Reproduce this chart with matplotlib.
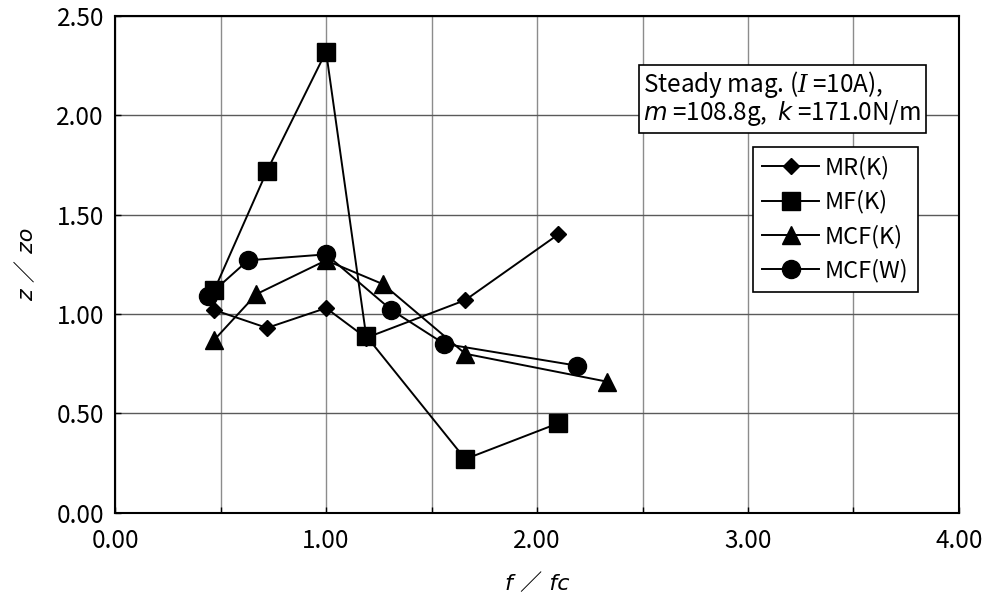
"""
z/zo response vs. frequency ratio for four damper types
"""
import numpy as np
import matplotlib
matplotlib.use("Agg")
import matplotlib.pyplot as plt

plt.rcParams['font.family'] = ['Noto Sans CJK JP', 'DejaVu Sans']
plt.rcParams['mathtext.fontset'] = 'custom'
plt.rcParams['mathtext.rm'] = 'Noto Sans CJK JP'
plt.rcParams['mathtext.it'] = 'DejaVu Sans:italic'
plt.rcParams['mathtext.cal'] = 'DejaVu Serif:italic'

# data
mr_x = [0.47, 0.72, 1.00, 1.19, 1.66, 2.10]
mr_y = [1.02, 0.93, 1.03, 0.88, 1.07, 1.40]

mf_x = [0.47, 0.72, 1.00, 1.19, 1.66, 2.10]
mf_y = [1.12, 1.72, 2.32, 0.89, 0.27, 0.45]

mcfk_x = [0.47, 0.67, 1.00, 1.27, 1.66, 2.33]
mcfk_y = [0.87, 1.10, 1.27, 1.15, 0.80, 0.66]

mcfw_x = [0.44, 0.63, 1.00, 1.31, 1.56, 2.19]
mcfw_y = [1.09, 1.27, 1.30, 1.02, 0.85, 0.74]

series_labels = ['MR(K)', 'MF(K)', 'MCF(K)', 'MCF(W)']
x_ticks = np.arange(0, 4.01, 0.5)
y_ticks = np.arange(0, 2.51, 0.5)

"""
Plot
"""
fig = plt.figure(figsize=(10.01, 6.09), dpi=100)
ax = fig.add_axes([0.115, 0.158, 0.843, 0.816])

ax.plot(mr_x, mr_y, color='black', lw=1.4, marker='D', ms=8, label=series_labels[0])
ax.plot(mf_x, mf_y, color='black', lw=1.4, marker='s', ms=13, label=series_labels[1])
ax.plot(mcfk_x, mcfk_y, color='black', lw=1.4, marker='^', ms=13.5, label=series_labels[2])
ax.plot(mcfw_x, mcfw_y, color='black', lw=1.4, marker='o', ms=13, label=series_labels[3])

ax.set_xlim(0, 4)
ax.set_ylim(0, 2.5)
ax.set_xticks(x_ticks)
ax.set_xticklabels(['%.2f' % t if t == int(t) else '' for t in x_ticks])
ax.set_yticks(y_ticks)
ax.set_yticklabels(['%.2f' % t for t in y_ticks])

# grid: vertical lines lighter than horizontal ones
ax.xaxis.grid(True, color='#8c8c8c', lw=1.0)
ax.yaxis.grid(True, color='#5a5a5a', lw=1.0)
ax.set_axisbelow(True)

ax.tick_params(direction='in', length=4, width=1, labelsize=17.5, color='black')
ax.tick_params(axis='x', pad=11)
ax.tick_params(axis='y', pad=8)
for s in ax.spines.values():
    s.set_linewidth(1.5)
    s.set_color('black')

lab_fam = ['DejaVu Sans', 'Noto Sans CJK JP']
ax.set_xlabel('f ／ fc', fontsize=16, style='italic', family=lab_fam, labelpad=14)
ax.set_ylabel('z ／ zo', fontsize=16, style='italic', family=lab_fam, labelpad=14)

ax.text(0.626, 0.893, 'Steady mag. ($\\mathcal{I}$ =10A),\n$m$ =108.8g,  $k$ =171.0N/m',
        transform=ax.transAxes, fontsize=17.5, va='top', ha='left', linespacing=0.92,
        bbox=dict(boxstyle='square,pad=0.18', fc='white', ec='black', lw=1.2))

leg = ax.legend(loc='upper left', bbox_to_anchor=(0.7556, 0.737), fontsize=17,
                frameon=True, fancybox=False, edgecolor='black', framealpha=1,
                handlelength=2.4, labelspacing=0.45, borderpad=0.4, handletextpad=0.25,
                borderaxespad=0)
leg.get_frame().set_linewidth(1.2)

plt.savefig('out.png', dpi=100)
